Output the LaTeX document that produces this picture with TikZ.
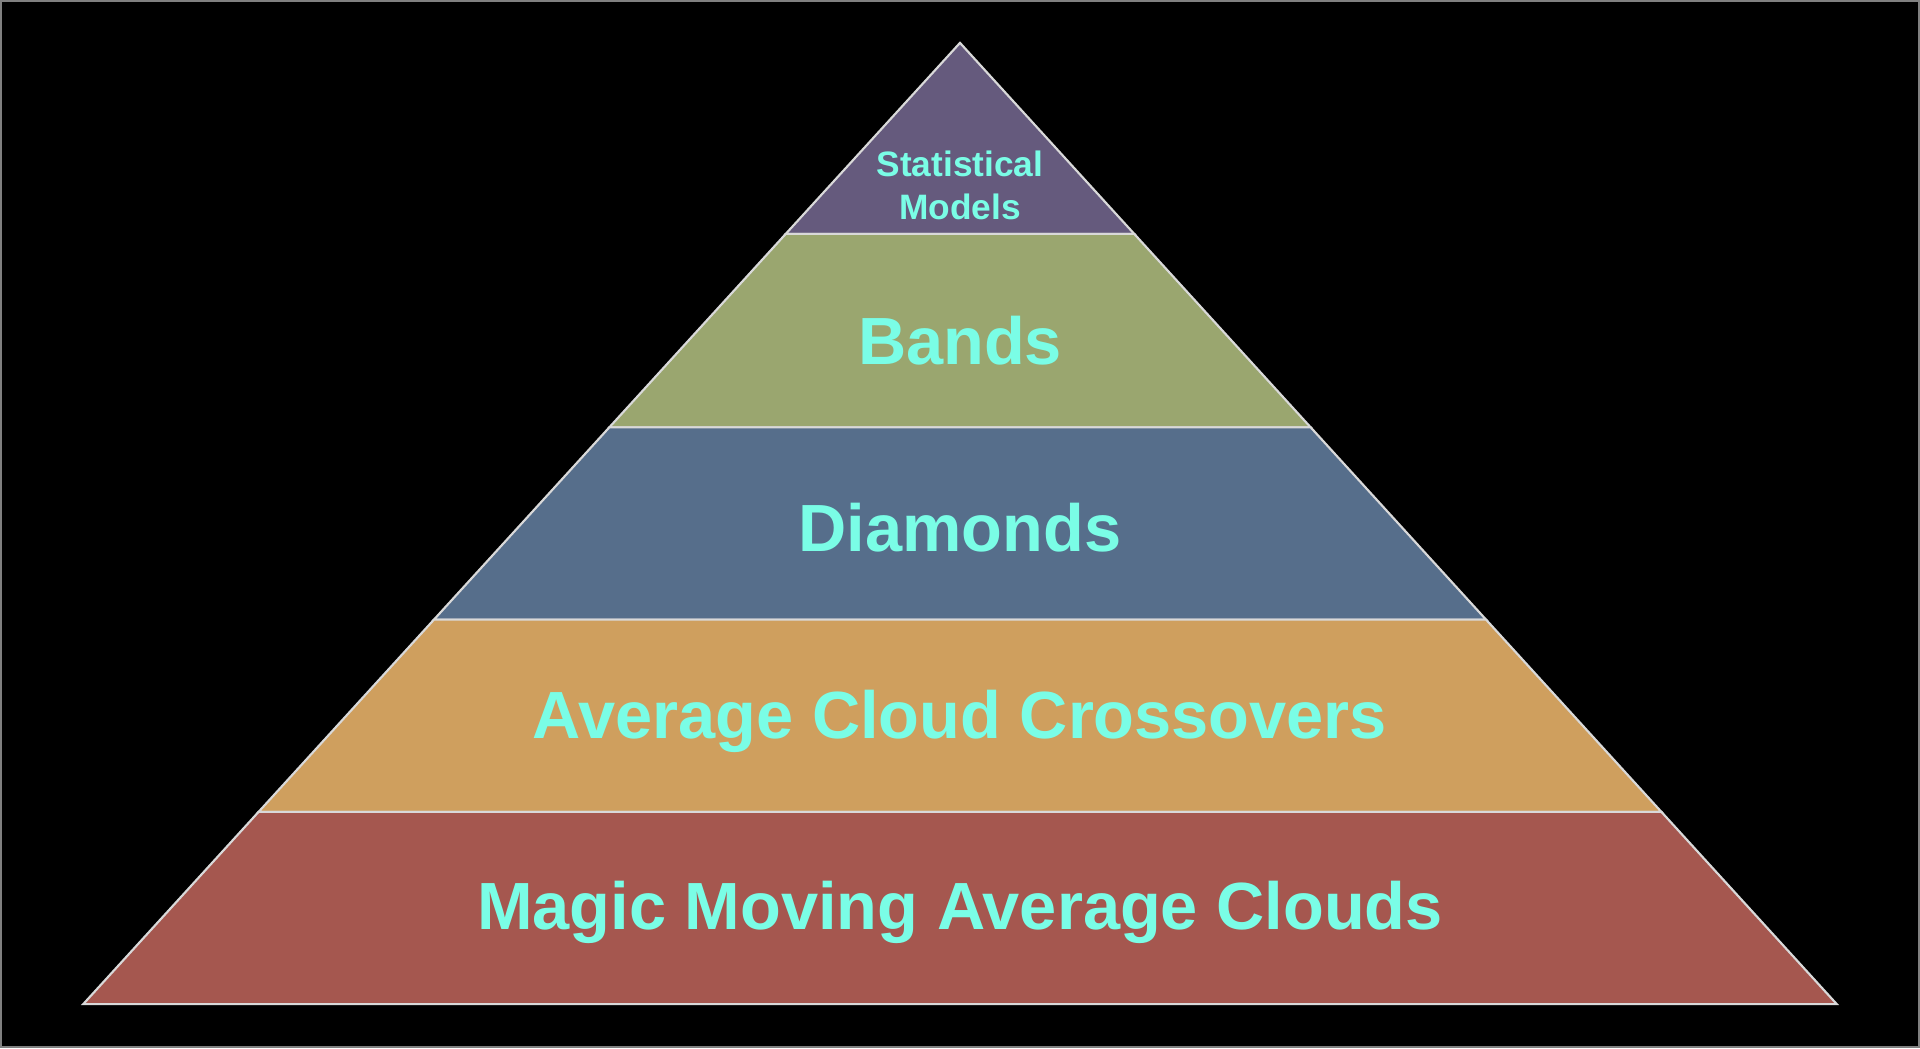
\documentclass[tikz,border=0pt]{standalone}
\usepackage{fontspec}
\setmainfont{Liberation Sans}
\definecolor{tierTop}{HTML}{655A7D}
\definecolor{tierGreen}{HTML}{9AA66F}
\definecolor{tierBlue}{HTML}{566E8B}
\definecolor{tierOrange}{HTML}{CF9F5E}
\definecolor{tierRed}{HTML}{A5574F}
\definecolor{labelCyan}{HTML}{7AFDE6}
\begin{document}
\begin{tikzpicture}[x=0.01cm,y=-0.01cm]
        \tikzstyle{tier}=[draw=white!85!black,line width=0.5pt]
        \tikzstyle{label}=[text=labelCyan,font=\bfseries\fontsize{15.5}{17}\selectfont,align=center]
        \fill[black] (0,0) rectangle (1568,856);
        \draw[gray,line width=0.4pt] (1,1) rectangle (1567,855);

        \filldraw[tier,fill=tierTop] (784,35) -- (926.3,191) -- (641.7,191) -- cycle;
        \filldraw[tier,fill=tierGreen] (641.7,191) -- (926.3,191) -- (1070.4,349) -- (497.6,349) -- cycle;
        \filldraw[tier,fill=tierBlue] (497.6,349) -- (1070.4,349) -- (1213.6,506) -- (354.4,506) -- cycle;
        \filldraw[tier,fill=tierOrange] (354.4,506) -- (1213.6,506) -- (1356.8,663) -- (211.2,663) -- cycle;
        \filldraw[tier,fill=tierRed] (211.2,663) -- (1356.8,663) -- (1500,820) -- (68,820) -- cycle;

        \node[label,font=\bfseries\fontsize{8.2}{10}\selectfont] (models) at (784,151) {Statistical\\Models};
        \node[label] (bands) at (784,278) {Bands};
        \node[label] (diamonds) at (784,431) {Diamonds};
        \node[label] (crossovers) at (784,589) {Average Cloud Crossovers};
        \node[label] (clouds) at (784,745) {Magic Moving Average Clouds};
    \end{tikzpicture}
\end{document}
